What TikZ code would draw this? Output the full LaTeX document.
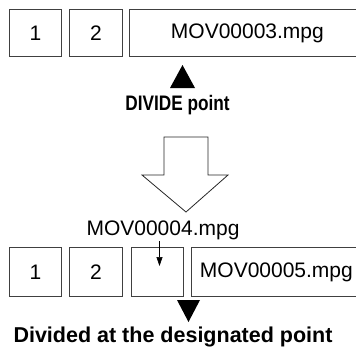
\documentclass[tikz,border=0pt]{standalone}
\usepackage{fontspec}
\setmainfont{Liberation Sans}
\newfontfamily\narrowbold{Liberation Sans}[FakeStretch=0.82]
\newfontfamily\plainbold{Liberation Sans}
\usetikzlibrary{arrows.meta}

\begin{document}
\begin{tikzpicture}[x=1pt,y=-1pt,line width=.8pt,
  cell/.style={draw=black!75,inner sep=0pt,anchor=north west,font=\fontsize{21}{25}\selectfont},
  filename/.style={anchor=base,inner sep=0pt,font=\fontsize{21}{25}\selectfont},
  marklabel/.style={anchor=base,inner sep=0pt,font=\narrowbold\bfseries\fontsize{21}{25}\selectfont}]
\path[use as bounding box] (0,0) rectangle (356,348);
% before dividing
\node[cell,minimum width=52pt,minimum height=47pt] (t1) at (9,9) {1};
\node[cell,minimum width=53pt,minimum height=47pt] (t2) at (69,9) {2};
\node[cell,minimum width=236pt,minimum height=47pt] (t3) at (129,9) {MOV00003.mpg};
\fill (170,88) -- (182.5,65) -- (195,88) -- cycle;
\node[marklabel] (divide) at (177.5,110) {DIVIDE point};
% big hollow arrow
\draw[black!85] (164,137) -- (208,137) -- (208,175) -- (228,175) -- (186,212) -- (142,175) -- (164,175) -- cycle;
% after dividing
\node[filename] (newfile) at (163,235) {MOV00004.mpg};
\node[cell,minimum width=52pt,minimum height=49pt] (b1) at (9,247) {1};
\node[cell,minimum width=53pt,minimum height=49pt] (b2) at (69,247) {2};
\node[cell,minimum width=52pt,minimum height=49pt] (b3) at (131,247) {};
\node[cell,minimum width=170pt,minimum height=49pt] (b4) at (191,247) {MOV00005.mpg};
\coordinate (cut) at (159.5,266);
\draw[line width=.7pt,-{Triangle[length=9pt,width=6pt]}] (newfile.south -| cut) ++(0,1) -- (cut);
\fill (177,300) -- (200,300) -- (188.5,322) -- cycle;
\node[font=\plainbold\bfseries\fontsize{21.5}{25}\selectfont,anchor=base,inner sep=0pt] (divided) at (173,342) {Divided at the designated point};
\end{tikzpicture}
\end{document}
